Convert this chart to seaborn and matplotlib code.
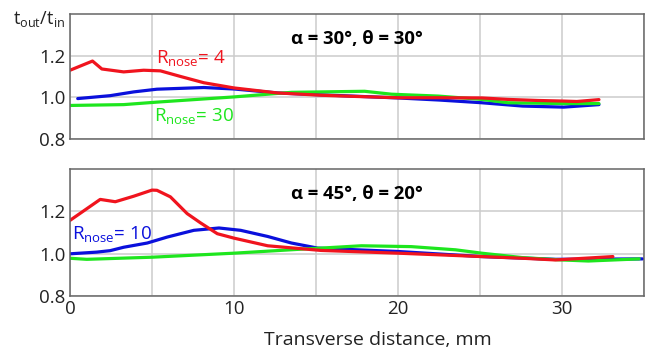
import numpy as np
import pandas as pd
import matplotlib
matplotlib.use("Agg")
import matplotlib.pyplot as plt
import seaborn as sns

# ---- data: panel A (alpha=30, theta=30) ----
a_red_x = [0, 1.37, 1.94, 3.27, 4.49, 5.51, 6.74, 8.16, 10, 12.65, 15.3, 17.5, 20, 22.5, 25.1, 26.7, 28.5, 30.1, 30.9, 32.25]
a_red_y = [1.13, 1.174, 1.136, 1.122, 1.13, 1.127, 1.10, 1.07, 1.045, 1.021, 1.01, 1.004, 0.998, 0.998, 0.997, 0.99, 0.985, 0.982, 0.98, 0.989]
a_blue_x = [0.47, 2.45, 3.88, 5.3, 8.16, 10, 12.65, 15.3, 17.5, 20, 22.5, 25.1, 27.6, 30.1, 32.25]
a_blue_y = [0.994, 1.008, 1.026, 1.039, 1.047, 1.04, 1.021, 1.012, 1.005, 0.997, 0.987, 0.974, 0.958, 0.953, 0.965]
a_green_x = [0, 3.27, 5.3, 10, 13.5, 15.3, 17.96, 19.6, 22.45, 25.1, 26.7, 30.1, 32.25]
a_green_y = [0.961, 0.965, 0.977, 1.002, 1.024, 1.026, 1.029, 1.015, 1.006, 0.99, 0.974, 0.97, 0.97]

# ---- data: panel B (alpha=45, theta=20) ----
b_red_x = [0, 1.84, 2.76, 3.88, 5.0, 5.3, 6.12, 7.14, 7.96, 8.98, 10, 12.05, 15.3, 20, 25.1, 27.6, 29.6, 33.1]
b_red_y = [1.157, 1.256, 1.245, 1.271, 1.30, 1.299, 1.268, 1.189, 1.145, 1.094, 1.073, 1.037, 1.015, 1.002, 0.986, 0.978, 0.97, 0.986]
b_blue_x = [0, 1.63, 2.45, 3.27, 4.71, 5.92, 7.55, 9.08, 10.4, 12.05, 13.5, 15.1, 17.5, 20, 25.1, 29.6, 34.9]
b_blue_y = [0.999, 1.007, 1.014, 1.03, 1.05, 1.078, 1.11, 1.121, 1.11, 1.081, 1.05, 1.026, 1.018, 1.01, 0.986, 0.973, 0.975]
b_green_x = [0, 1.02, 5.0, 10, 14.1, 15.3, 17.76, 20.8, 23.5, 25.1, 27.6, 30, 31.6, 34.7]
b_green_y = [0.978, 0.973, 0.983, 1.002, 1.021, 1.026, 1.037, 1.033, 1.018, 1.002, 0.981, 0.97, 0.965, 0.975]

x_ticks = [0, 5, 10, 15, 20, 25, 30, 35]
x_tick_labels = ["0", "", "10", "", "20", "", "30", ""]
y_ticks = [0.8, 1.0, 1.2]
y_tick_labels = ["0.8", "1.0", "1.2"]

series_order = ["blue", "green", "red"]
palette = {"red": "#f0141e", "blue": "#0a10dc", "green": "#1ee61e"}


def make_df(rx, ry, bx, by, gx, gy):
    parts = []
    for name, xs, ys in (("blue", bx, by), ("green", gx, gy), ("red", rx, ry)):
        parts.append(pd.DataFrame({"x": xs, "y": ys, "s": name}))
    return pd.concat(parts, ignore_index=True)


df_a = make_df(a_red_x, a_red_y, a_blue_x, a_blue_y, a_green_x, a_green_y)
df_b = make_df(b_red_x, b_red_y, b_blue_x, b_blue_y, b_green_x, b_green_y)

sns.set_theme(style="white")
plt.rcParams["font.family"] = ["Open Sans", "DejaVu Sans"]
plt.rcParams["mathtext.default"] = "regular"

fig = plt.figure(figsize=(6.46, 3.49), dpi=100)
ax1 = fig.add_axes([0.1084, 0.6017, 0.8886, 0.3583])
ax2 = fig.add_axes([0.1084, 0.152, 0.8886, 0.364])

txt = "#222222"
for ax, df in ((ax1, df_a), (ax2, df_b)):
    sns.lineplot(data=df, x="x", y="y", hue="s", hue_order=series_order,
                 palette=palette, sort=False, estimator=None, linewidth=2.3,
                 legend=False, ax=ax)
    ax.set_xlim(0, 35)
    ax.set_ylim(0.8, 1.4)
    ax.set_xticks(x_ticks)
    ax.set_yticks(y_ticks)
    ax.set_yticklabels(y_tick_labels)
    ax.grid(True, color="#cccccc", linewidth=1.1)
    ax.set_axisbelow(True)
    for sp in ax.spines.values():
        sp.set_color("#666666")
        sp.set_linewidth(1.1)
    ax.tick_params(length=0, labelsize=13.5, colors=txt, pad=3)
    ax.set_xlabel("")
    ax.set_ylabel("")

ax1.set_xticklabels([])
ax2.set_xticklabels(x_tick_labels)

fig.text(378 / 646, 1 - 340 / 349, "Transverse distance, mm", fontsize=14,
         color=txt, ha="center", va="center")

fig.text(0.02, 0.93, "t$_{out}$/t$_{in}$", fontsize=13, color=txt, ha="left", va="baseline")

ax1.text(0.385, 0.8, "α = 30°, θ = 30°", transform=ax1.transAxes, fontsize=13.3,
         fontweight="bold", color="black", ha="left", va="center")
ax2.text(0.385, 0.8, "α = 45°, θ = 20°", transform=ax2.transAxes, fontsize=13.3,
         fontweight="bold", color="black", ha="left", va="center")

ax1.text(5.25, 1.165, "R$_{nose}$= 4", fontsize=13.5, color=palette["red"], ha="left", va="baseline")
ax1.text(5.1, 0.885, "R$_{nose}$= 30", fontsize=13.5, color=palette["green"], ha="left", va="baseline")
ax2.text(0.1, 1.07, "R$_{nose}$= 10", fontsize=13.5, color=palette["blue"], ha="left", va="baseline")

fig.savefig("out.png", dpi=100)
